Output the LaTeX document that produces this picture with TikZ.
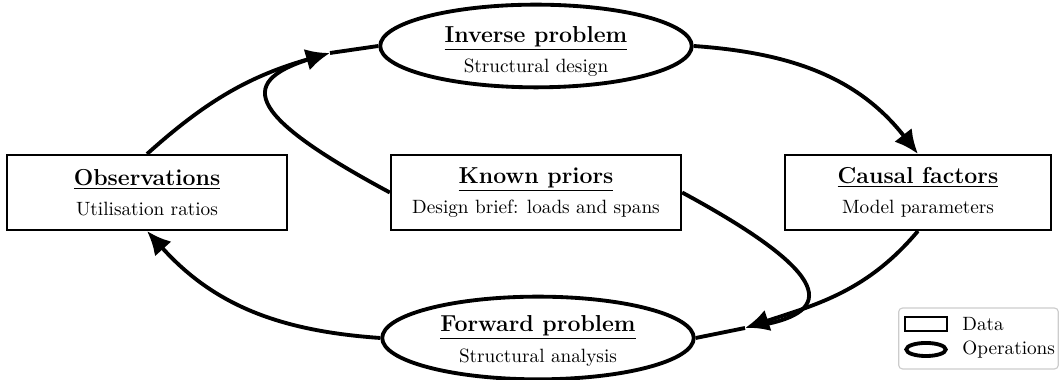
\documentclass[tikz,border=0pt]{standalone}
\usetikzlibrary{shapes.geometric,arrows.meta}
\begin{document}
\begin{tikzpicture}[x=0.52pt,y=0.52pt,
  databox/.style={draw, line width=1pt, rectangle, minimum height=39pt, align=center, inner sep=2pt},
  opell/.style={draw, line width=2pt, ellipse, minimum width=162pt, minimum height=43pt, inner sep=0pt},
  optext/.style={align=center, inner sep=0pt},
  conn/.style={line width=2pt},
  arr/.style={conn, -{Latex[length=12.5pt,width=11.5pt]}}]
\useasboundingbox (0,0) rectangle (1060,380);
\newcommand{\ttlx}[1]{{\large\underline{\textbf{#1}}}}
% nodes
\node[opell] (inv) at (536,334) {};
\node[optext] (invt) at ([yshift=-2.8pt]inv.center) {\ttlx{Inverse problem}\\[4pt]Structural design};
\node[opell] (fwd) at (538,42) {};
\node[optext] (fwdt) at ([yshift=-1.4pt]fwd.center) {\ttlx{Forward problem}\\[4pt]Structural analysis};
\node[databox, minimum width=145.6pt] (obs) at (147,187.5) {\ttlx{Observations}\\[3.5pt]Utilisation ratios};
\node[databox, minimum width=151pt] (kp) at (536,187.5) {\ttlx{Known priors}\\[3.5pt]Design brief: loads and spans};
\node[databox, minimum width=138pt] (cf) at (918,187.5) {\ttlx{Causal factors}\\[3.5pt]Model parameters};
\coordinate (m1) at (330,327);
\coordinate (m2) at (745,52);
% connectors
\draw[arr] (obs.north) to[out=42, in=196] (m1);
\draw[conn] (m1) -- (inv.west);
\draw[conn, shorten >=8pt] (kp.west) .. controls (240,268) and (238,300) .. (m1);
\draw[arr] (inv.east) to[out=-4, in=128] (cf.north);
\draw[arr] (cf.south) to[out=230, in=18] (m2);
\draw[conn] (m2) -- (fwd.east);
\draw[conn, shorten >=8pt] (kp.east) .. controls (835,105) and (835,68) .. (m2);
\draw[arr] (fwd.west) to[out=176, in=-48] (obs.south);
% legend
\node[draw=gray!40, line width=0.6pt, rounded corners=2pt, minimum width=83pt, minimum height=31.7pt, inner sep=0pt] (leg) at (978.5,41.5) {};
\node[draw, line width=0.8pt, rectangle, minimum width=21.8pt, minimum height=7.3pt, inner sep=0pt] (lrect) at (926,56) {};
\node[draw, line width=2pt, ellipse, minimum width=20.5pt, minimum height=6.8pt, inner sep=0pt] (lell) at (926,30.5) {};
\node[anchor=west, inner sep=0pt] (ldata) at (962,56) {Data};
\node[anchor=west, inner sep=0pt] (lops) at (962,30.5) {Operations};
\end{tikzpicture}
\end{document}
